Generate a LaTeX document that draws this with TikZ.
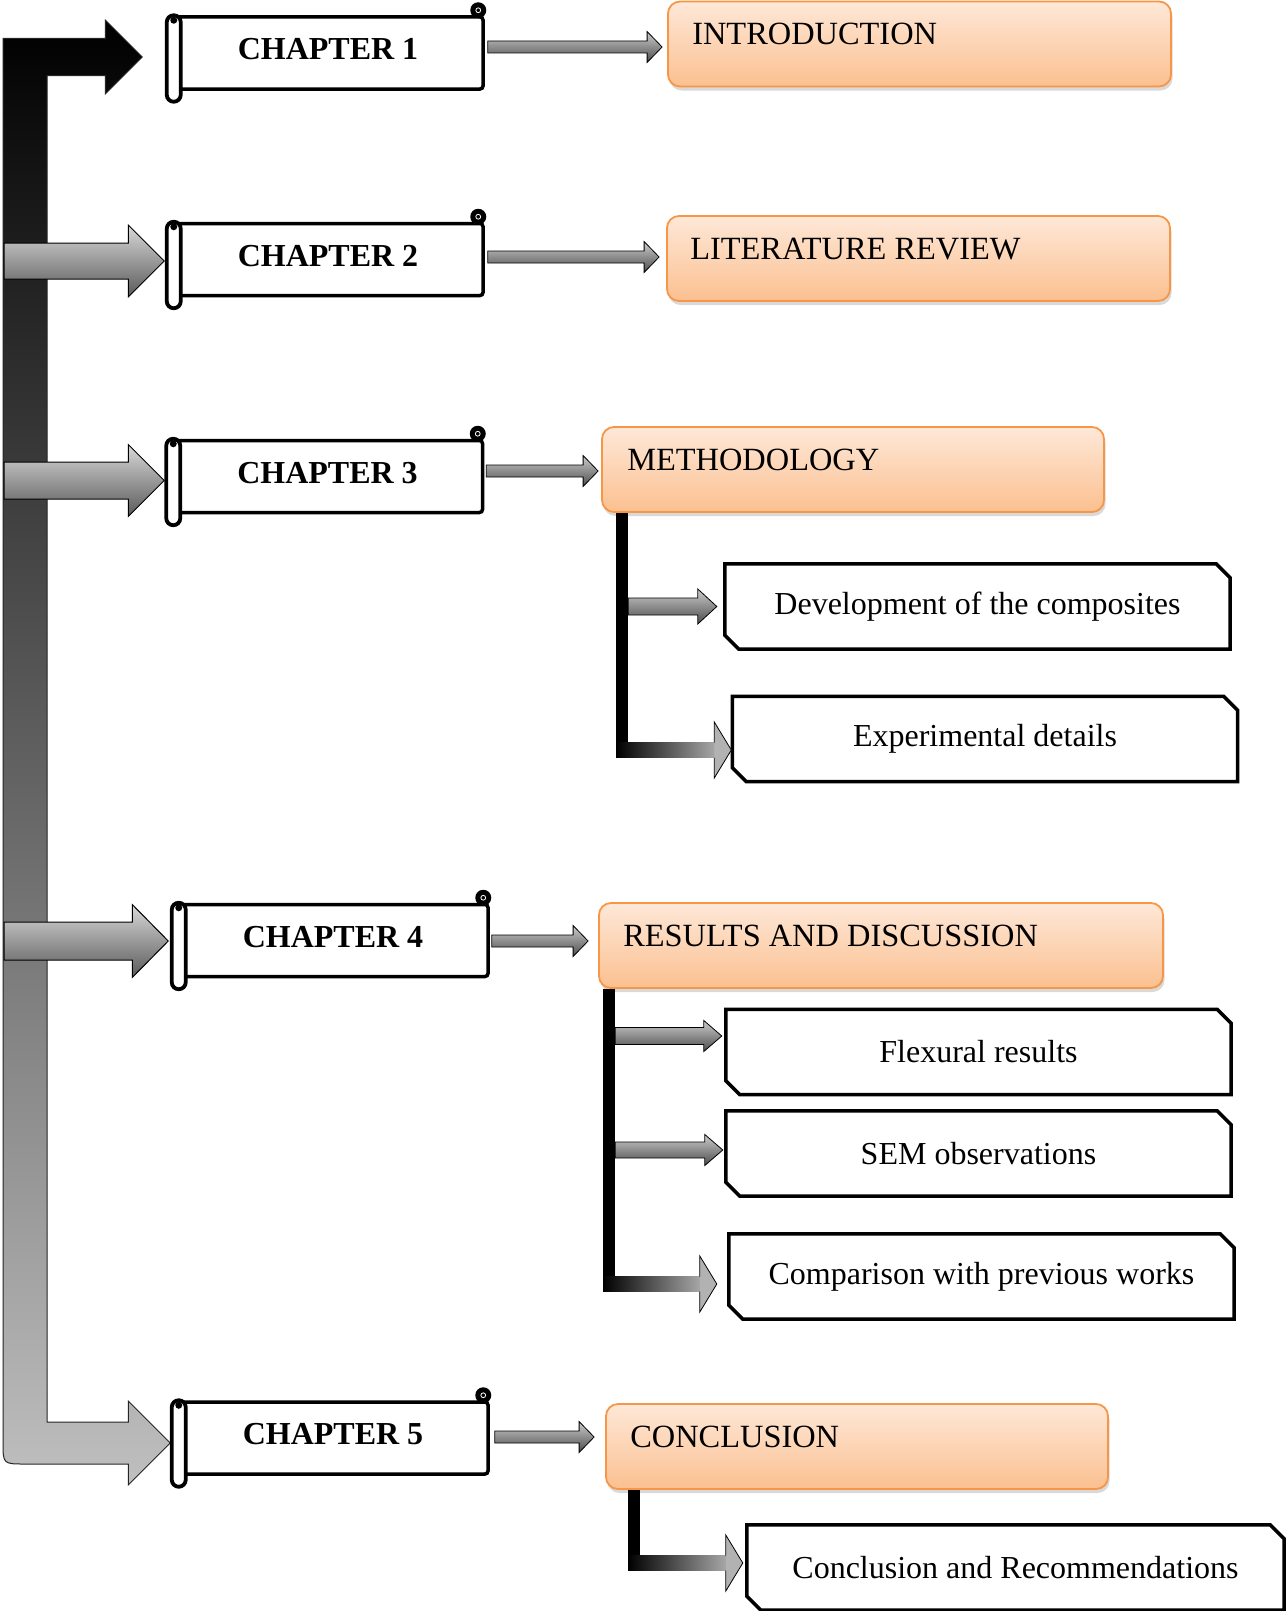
\documentclass[tikz,border=0pt]{standalone}
\usepackage{fontspec}
\setmainfont{Liberation Serif}
\usetikzlibrary{calc,shadows}
\definecolor{oborder}{HTML}{F79646}
\definecolor{otop}{HTML}{FEE8D8}
\definecolor{obot}{HTML}{FBC090}
\tikzset{
  chbody/.style={draw=black, line width=3.5pt, fill=white, rounded corners=3pt, inner sep=0pt, minimum width=310pt, minimum height=72pt, font=\fontsize{32pt}{36pt}\selectfont\bfseries, text depth=8pt},
  rollstyle/.style={draw=black, line width=3.8pt, fill=white, rounded corners=7pt},
  obox/.style={draw=oborder, line width=1.8pt, rounded corners=12pt, top color=otop, bottom color=obot, minimum height=85pt, inner sep=0pt, drop shadow={shadow xshift=1.5pt, shadow yshift=-4pt, opacity=0.3}},
  otext/.style={inner sep=0pt, font=\fontsize{32.4pt}{36pt}\selectfont},
  subbox/.style={inner sep=0pt, minimum width=505pt, minimum height=85pt, font=\fontsize{32pt}{36pt}\selectfont},
  snipline/.style={draw=black, line width=3.5pt},
  spinestyle/.style={top color=black, bottom color=black!25, draw=black!85, line width=1pt},
  bigarrow/.style={top color=black!15, bottom color=black!65, draw=black, line width=1pt},
  smallarrow/.style={top color=black!20, bottom color=black!70, draw=black, line width=0.8pt},
}
\newcommand{\snipframe}[1]{\draw[snipline] (#1.north west) -- ($(#1.north east)+(-14,0)$) -- ($(#1.north east)+(0,14)$) -- (#1.south east) -- ($(#1.south west)+(14,0)$) -- ($(#1.south west)+(0,-14)$) -- cycle;}
\newcommand{\scrolldeco}[1]{%
  \draw[rollstyle] ($(#1.north west)+(-4.5,0)$) rectangle ($(#1.south west)+(9.5,11)$);
  \fill[black] ($(#1.north west)+(2.5,5)$) circle (3.5pt);
  \fill[black] ($(#1.north east)+(-6.5,-5)$) circle (8pt);
  \draw[white, line width=0.8pt] ($(#1.north east)+(-6.5,-5)$) circle (2.4pt);
}
\newcommand{\barrow}[6]{\path[#1] let \p1=#2, \p2=#3 in (\x1,\y2+#4) -- (\x2-#6,\y2+#4) -- (\x2-#6,\y2+#5) -- (\x2,\y2) -- (\x2-#6,\y2-#5) -- (\x2-#6,\y2-#4) -- (\x1,\y2-#4) -- cycle;}
\newcommand{\elbow}[2]{%
  \path[fill=black] let \p1=#1, \p2=#2 in (\x1,\y1) rectangle (\x1+12pt,\y2-7.5pt);
  \path[left color=black, right color=black!35] let \p1=#1, \p2=#2 in (\x1,\y2+7.5pt) rectangle (\x2-17pt,\y2-7.5pt);
  \path[draw=black, line width=0.8pt, fill=black!30] let \p1=#1, \p2=#2 in (\x2-17pt,\y2+7.5pt) -- (\x2-17pt,\y2+28pt) -- (\x2,\y2) -- (\x2-17pt,\y2-28pt) -- (\x2-17pt,\y2-7.5pt);
}
\begin{document}
\begin{tikzpicture}[x=1pt,y=-1pt]
\useasboundingbox (0,0) rectangle (1286,1611);
% chapter scrolls
\node[chbody] (ch1) at (328,53) {CHAPTER 1};
\node[chbody] (ch2) at (328,259.5) {CHAPTER 2};
\node[chbody] (ch3) at (327.5,476.5) {CHAPTER 3};
\node[chbody] (ch4) at (333,940.5) {CHAPTER 4};
\node[chbody] (ch5) at (333,1438) {CHAPTER 5};
% orange boxes
\node[obox, minimum width=503pt] (intro) at (919.5,44) {};
\node[obox, minimum width=503pt] (lit) at (918.5,258.5) {};
\node[obox, minimum width=502pt] (meth) at (853,469.5) {};
\node[obox, minimum width=564pt] (res) at (881,945.5) {};
\node[obox, minimum width=502pt] (conc) at (857,1446.5) {};
\node[otext, anchor=base west] (introT) at ($(intro.north west)+(25,44)$) {INTRODUCTION};
\node[otext, anchor=base west] (litT) at ($(lit.north west)+(24,44)$) {LITERATURE REVIEW};
\node[otext, anchor=base west] (methT) at ($(meth.north west)+(26,44)$) {METHODOLOGY};
\node[otext, anchor=base west] (resT) at ($(res.north west)+(25,44)$) {RESULTS AND DISCUSSION};
\node[otext, anchor=base west] (concT) at ($(conc.north west)+(25,44)$) {CONCLUSION};
% sub boxes
\node[subbox] (dev) at (977.5,606.5) {Development of the composites};
\node[subbox] (exp) at (985,739) {Experimental details};
\node[subbox] (flex) at (978.5,1052) {Flexural results};
\node[subbox] (sem) at (978.5,1153.5) {SEM observations};
\node[subbox] (comp) at (981.5,1276.5) {Comparison with previous works};
\node[subbox, minimum width=537pt] (crec) at (1015.5,1567.5) {Conclusion and Recommendations};
\snipframe{dev}
\snipframe{exp}
\snipframe{flex}
\snipframe{sem}
\snipframe{comp}
\snipframe{crec}
% spine (bent arrow)
\path[spinestyle] let \p1=($(ch1.west)+(-29,4)$), \p2=($(ch5.west)+(-6,5)$) in
  (3pt,\y1+18.5pt) -- (\x1-37pt,\y1+18.5pt) -- (\x1-37pt,\y1+37pt) -- (\x1,\y1) -- (\x1-37pt,\y1-37pt) -- (\x1-37pt,\y1-18.5pt)
  -- (47pt,\y1-18.5pt) -- (47pt,\y2+21pt) -- (\x2-42pt,\y2+21pt) -- (\x2-42pt,\y2+42pt) -- (\x2,\y2)
  -- (\x2-42pt,\y2-42pt) -- (\x2-42pt,\y2-21pt) -- (25pt,\y2-21pt) .. controls (3pt,\y2-21pt) .. (3pt,\y2+1pt) -- cycle;
\coordinate (spineL) at (4,0);
\barrow{bigarrow}{(spineL)}{($(ch2.west)+(-7,1.5)$)}{18pt}{36pt}{36pt}
\barrow{bigarrow}{(spineL)}{($(ch3.west)+(-6.5,4)$)}{18.5pt}{36pt}{36pt}
\barrow{bigarrow}{(spineL)}{($(ch4.west)+(-8,0.5)$)}{19pt}{36.5pt}{36pt}
\scrolldeco{ch1}
\scrolldeco{ch2}
\scrolldeco{ch3}
\scrolldeco{ch4}
\scrolldeco{ch5}
% chapter -> heading arrows
\coordinate (a1) at (intro.west |- ch1.east);
\coordinate (a2) at (lit.west |- ch2.east);
\coordinate (a3) at (meth.west |- ch3.east);
\coordinate (a4) at (res.west |- ch4.east);
\coordinate (a5) at (conc.west |- ch5.east);
\barrow{smallarrow}{($(ch1.east)+(3,0)$)}{($(a1)+(-5,-6)$)}{6pt}{15.5pt}{15pt}
\barrow{smallarrow}{($(ch2.east)+(3,0)$)}{($(a2)+(-7,-2.5)$)}{6pt}{15.5pt}{15pt}
\barrow{smallarrow}{($(ch3.east)+(2,0)$)}{($(a3)+(-3,-5.5)$)}{6pt}{15.5pt}{15pt}
\barrow{smallarrow}{($(ch4.east)+(2,0)$)}{($(a4)+(-10,0.5)$)}{6pt}{15.5pt}{15pt}
\barrow{smallarrow}{($(ch5.east)+(5,0)$)}{($(a5)+(-11,-1)$)}{6pt}{15.5pt}{15pt}
% sub-branches
\coordinate (mstem) at ($(meth.south west)+(27,0)$);
\coordinate (rstem) at ($(res.south west)+(17,0)$);
\barrow{smallarrow}{(mstem)}{($(dev.west)+(-8,0)$)}{8.5pt}{17.5pt}{19pt}
\barrow{smallarrow}{(rstem)}{($(flex.west)+(-4,-16)$)}{8.5pt}{15.5pt}{18pt}
\barrow{smallarrow}{(rstem)}{($(sem.west)+(-3,-3.5)$)}{8pt}{15.5pt}{18pt}
\elbow{($(meth.south west)+(15,0)$)}{($(exp.west)+(-1,11)$)}
\elbow{($(res.south west)+(5,0)$)}{($(comp.west)+(-12,7.5)$)}
\elbow{($(conc.south west)+(23,0)$)}{($(crec.west)+(-4,-4.5)$)}
\end{tikzpicture}
\end{document}
